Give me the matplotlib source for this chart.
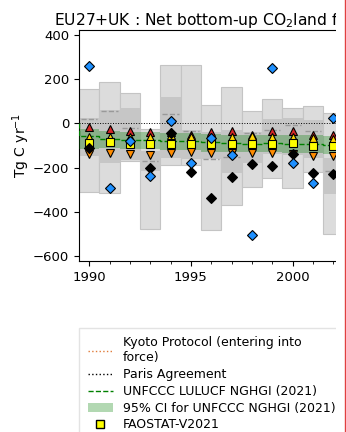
import numpy as np
import matplotlib
matplotlib.use('Agg')
import matplotlib.pyplot as plt
from matplotlib.lines import Line2D
from matplotlib.patches import Patch, Rectangle

years = np.arange(1990, 2003)

# ensemble spread (light) and inner spread (dark), with median
range_hi = [153, 185, 138, -25, 263, 263, 83, 165, 56, 110, 68, 78, 48]
range_lo = [-309, -313, -169, -479, -190, -188, -482, -369, -286, -248, -294, -218, -501]
inner_hi = [22, 60, 68, -125, 120, -30, -40, -30, -40, 20, 23, 15, -158]
inner_lo = [-150, -181, -165, -215, -157, -160, -160, -225, -180, -140, -145, -155, -320]
median = [20, 55, -20, -169, 42, -35, -161, -153, -45, -30, -10, -35, -215]

# UNFCCC NGHGI and its 95% CI
unfccc = [-58, -72, -75, -76, -82, -78, -86, -90, -92, -90, -94, -95, -97]
ci_hi = [-25, -35, -38, -40, -45, -42, -50, -52, -54, -52, -55, -55, -57]
ci_lo = [-115, -112, -115, -118, -122, -120, -128, -130, -132, -130, -134, -135, -137]

faostat = [-87, -84, -92, -93, -93, -93, -93, -93, -93, -92, -91, -105, -105]
red_up = [-18, -27, -33, -41, -40, -55, -38, -33, -55, -33, -33, -53, -55]
gold_up = [-62, -62, -62, -62, -55, -60, -62, -60, -58, -62, -62, -68, -70]
orange_down = [-138, -136, -139, -143, -135, -128, -135, -135, -135, -135, -140, -148, -150]
black_d = [-113, np.nan, np.nan, -203, -45, -222, -336, -243, -185, -192, -139, -225, -229]
blue_d = [259, -293, -78, -238, 10, -181, -65, -144, -505, 248, -181, -268, 25]

fig = plt.figure(figsize=(3.46, 4.32), dpi=100)
ax = fig.add_axes([79/346, 1-261/432, (336-79)/346, (261-30)/432])

ax.bar(years, np.subtract(range_hi, range_lo), bottom=range_lo, width=1.0,
       color='#dcdcdc', edgecolor='#c4c4c4', linewidth=0.8, zorder=1)
ax.bar(years, np.subtract(inner_hi, inner_lo), bottom=inner_lo, width=1.0,
       color='#c6c6c6', edgecolor='none', zorder=1.5)
ax.hlines(median, years-0.4, years+0.4, colors='#999999', linestyles='--', lw=1.0, zorder=2)

edges = np.append(years - 0.5, years[-1] + 0.5)
ax.stairs(ci_hi, edges, baseline=ci_lo, fill=True, color='green', alpha=0.3, lw=0, zorder=3)
ax.stairs(unfccc, edges, color='green', ls='--', lw=1.0, zorder=3.5)
ax.axhline(0, color='k', ls=':', lw=0.7, zorder=2.5)

mk = dict(ls='none', mec='k', mew=0.8, zorder=5)
ax.plot(years, orange_down, 'v', mfc='darkorange', ms=6, **mk)
ax.plot(years, red_up, '^', mfc='#d62728', ms=6, **mk)
ax.plot(years, gold_up, '^', mfc='gold', ms=6, **mk)
ax.plot(years, faostat, 's', mfc='yellow', ms=5.5, **mk)
ax.plot(years, black_d, 'D', mfc='k', ms=5, **mk)
ax.plot(years, blue_d, 'D', mfc='#1e90ff', ms=5, **mk)

ax.set_xlim(1989.5, 2002.13)
ax.set_ylim(-622, 421)
ax.set_xticks([1990, 1995, 2000])
ax.set_xticks(years, minor=True)
ax.set_yticks([400, 200, 0, -200, -400, -600])
ax.tick_params(labelsize=9.5)
ax.spines['right'].set_visible(False)
ax.set_ylabel('Tg C yr$^{-1}$', fontsize=10, labelpad=1)

fig.text(54/346, 1-25/432, 'EU27+UK : Net bottom-up CO$_2$land fluxes',
         fontsize=11.2, ha='left', va='baseline')

handles = [
    Line2D([], [], color='#e07b39', ls=':', lw=1),
    Line2D([], [], color='k', ls=':', lw=1),
    Line2D([], [], color='green', ls='--', lw=1),
    Patch(facecolor='green', alpha=0.3),
    Line2D([], [], marker='s', ls='none', mfc='yellow', mec='k', ms=5.5),
]
labels = ['Kyoto Protocol (entering into\nforce)', 'Paris Agreement',
          'UNFCCC LULUCF NGHGI (2021)', '95% CI for UNFCCC NGHGI (2021)',
          'FAOSTAT-V2021']
fig.legend(handles, labels, loc='upper left', mode='expand',
           bbox_to_anchor=(79/346, 1-332/432, 300/346, 0.01), fontsize=9,
           labelspacing=0.3, borderpad=0.7, frameon=True, fancybox=False,
           edgecolor='#dddddd', borderaxespad=0)

fig.add_artist(Rectangle((336/346, 0), 10/346, 1, transform=fig.transFigure,
                         facecolor='white', edgecolor='none', zorder=10))
fig.add_artist(Line2D([344.5/346]*2, [0, 1], transform=fig.transFigure,
                      color='#e04040', lw=1.0, zorder=11))

fig.savefig('out.png', dpi=100)
